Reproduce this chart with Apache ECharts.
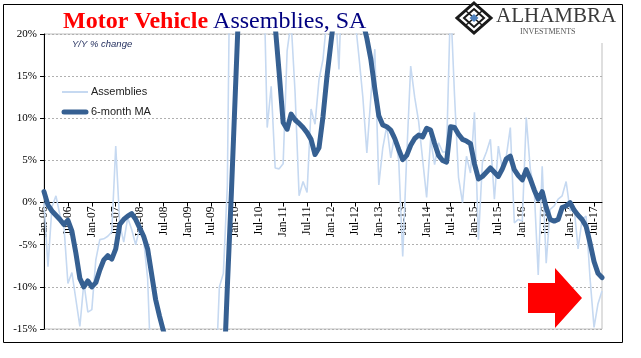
<!DOCTYPE html>
<html><head><meta charset="utf-8">
<script src="https://cdn.jsdelivr.net/npm/echarts@6/dist/echarts.min.js"></script>
<style>html,body{margin:0;padding:0;background:#fff}#c{width:641px;height:358px}</style>
</head><body><div id="c"></div>
<script>
// Categories: monthly, Jan-06 .. Sep-17
const monthNames = ['Jan','Feb','Mar','Apr','May','Jun','Jul','Aug','Sep','Oct','Nov','Dec'];
const years = ['06','07','08','09','10','11','12','13','14','15','16','17'];
const categories = [];
years.forEach(function (y) { monthNames.forEach(function (m) { categories.push(m + '-' + y); }); });
categories.length = 141;

// Y/Y % change of motor vehicle assemblies (clipped values estimated)
const assemblies = [
  0, -7.6, -0.5, 0.8, -1.5, -2.8, -9.6, -8.3, -11.5, -14.7, -9.5, -13,
  -12.7, -6.8, -4.4, -4.3, -4.0, -3.5, 6.7, -2.5, -4.7, -1.8, -3.2, -5.0,
  -3.0, -4.5, -9, -22, -18, -20, -17, -22, -25, -30, -35, -40,
  -48, -52, -55, -50, -45, -38, -30, -22, -10, -8.4, 2, 45,
  70, 95, 110, 100, 80, 60, 45, 30, 8.9, 13.8, 4.1, 4.0,
  4.6, 18, 21.5, 13, 0.8, 2.5, 1.2, 11.1, 9.3, 14.6, 17, 22,
  28, 24, 15.8, 30, 28, 26, 22, 17.4, 12.5, 5.9, 12.5, 18.2,
  2.1, 6.5, 9.1, 5.3, 8.1, 5.0, -6.4, 5.5, 16.2, 12.5, 9.6, 5.1,
  0.6, 7.5, 4.5, 7.1, 6.0, 6.0, 24, 12.7, 3, 0, 5.5, 3.5,
  10.7, -4.4, 4.8, 6.0, 7.5, 0.4, 6.7, 4.0, 5.5, 8.9, -2.4, -2.0,
  -2.2, 10.1, 4, 1.5, -8.6, 4.3, -7.2, -0.8, -0.4, 0.4, 0.8, 2.5,
  -1.0, -0.6, -5.5, -2.0, -1.6, -9, -14.8, -12, -10.5
];

// 6-month moving average
const ma6 = [
  1.3, -0.3, -1.0, -1.5, -2.0, -2.6, -2.1, -3.4, -6.0, -9.0, -10.0, -9.3,
  -10.0, -9.5, -8.0, -6.8, -6.3, -6.7, -5.5, -2.6, -2.0, -1.6, -1.3, -2.0,
  -3.0, -4.0, -5.5, -8.5, -11.5, -13.5, -15.3, -18, -20.5, -22.5, -25, -28,
  -33, -38, -43, -47, -48.5, -48, -45, -40, -32, -22, -10, 1,
  13, 25, 40, 55, 68, 75, 78, 70, 55, 40, 21, 15.4,
  9.5, 8.7, 10.5, 9.8, 9.4, 8.9, 8.3, 7.5, 5.7, 6.5, 10.2, 15,
  19, 23, 24, 25, 26, 26, 25, 24, 21.5, 19.5, 17, 13.5,
  10.3, 9.2, 9.0, 8.6, 7.6, 6.3, 5.1, 5.6, 6.8, 7.6, 8.0, 7.8,
  8.8, 8.6, 7.0, 5.6, 5.0, 4.8, 9.0, 8.9, 8.1, 7.5, 7.3, 7.0,
  4.6, 2.8, 3.1, 3.6, 4.1, 3.6, 3.1, 4.0, 5.2, 5.5, 3.9, 3.2,
  2.7, 3.9, 2.8, 1.5, 0.4, 1.3, -0.6, -2.0, -2.2, -2.0, -0.6, -0.4,
  0, -0.9, -1.5, -2.0, -2.8, -4.8, -7.0, -8.4, -8.9
];

const yMin = -15, yMax = 20, yStep = 5;

const chart = echarts.init(document.getElementById('c'), null, {renderer: 'canvas'});

const serif = 'Liberation Serif';
const lightBlue = '#c6d9f1';
const darkBlue = '#366092';
const gridTop = 34, gridBottom = 29, chartH = 358;
const plotH = chartH - gridTop - gridBottom;
const zeroOffset = -plotH * (0 - yMin) / (yMax - yMin);

chart.setOption({
  animation: false,
  backgroundColor: '#ffffff',
  title: {
    text: '{r|Motor Vehicle} {b|Assemblies, SA}',
    left: 58, top: 5,
    textStyle: {
      fontWeight: 'normal',
      rich: {
        r: {fontFamily: serif, fontSize: 24, fontWeight: 'bold', color: '#ff0000'},
        b: {fontFamily: serif, fontSize: 24, fontWeight: 'normal', color: '#000080'}
      }
    }
  },
  grid: {left: 44, right: 39, top: gridTop, bottom: gridBottom, show: true, borderColor: '#bfbfbf', borderWidth: 1,
         containLabel: false, outerBoundsMode: 'none'},
  xAxis: {
    type: 'category', data: categories, boundaryGap: false,
    offset: zeroOffset,
    axisLine: {onZero: false, lineStyle: {color: '#000', width: 1}},
    axisTick: {show: true, interval: 5, length: 4, lineStyle: {color: '#000'}},
    axisLabel: {interval: 5, rotate: 90, fontFamily: serif, fontSize: 11.5, color: '#000', margin: 4},
    splitLine: {show: false}
  },
  yAxis: {
    type: 'value', min: yMin, max: yMax, interval: yStep,
    axisLine: {show: true, lineStyle: {color: '#000', width: 1}},
    axisTick: {show: true, length: 4, lineStyle: {color: '#000'}},
    axisLabel: {formatter: '{value}%', fontFamily: serif, fontSize: 11, color: '#000', margin: 7},
    splitLine: {show: true, lineStyle: {color: '#b0b0b0', type: [2, 2], width: 1}}
  },
  series: [
    {name: 'Assemblies', type: 'line', data: assemblies, showSymbol: false, symbol: 'none',
     lineStyle: {color: lightBlue, width: 1.6}, itemStyle: {color: lightBlue}, z: 2, clip: true},
    {name: '6-month MA', type: 'line', data: ma6, showSymbol: false, symbol: 'none',
     lineStyle: {color: darkBlue, width: 5, cap: 'round', join: 'round'}, itemStyle: {color: darkBlue}, z: 3, clip: true}
  ],
  graphic: [
    // outer frame
    {type: 'rect', z: 50, silent: true, shape: {x: 3.5, y: 4.5, width: 619, height: 338},
     style: {fill: null, stroke: '#000', lineWidth: 1}},
    // white patch behind logo
    {type: 'rect', z: 60, silent: true, shape: {x: 455, y: 5, width: 167, height: 38},
     style: {fill: '#fff', stroke: null}},
    // logo icon
    {type: 'polygon', z: 70, silent: true, shape: {points: [[474,3],[491,18],[474,33],[457,18]]}, style: {fill: null, stroke: '#1a1a1a', lineWidth: 3}},
    {type: 'polygon', z: 70, silent: true, shape: {points: [[474,9],[484,18],[474,27],[464,18]]}, style: {fill: null, stroke: '#1a1a1a', lineWidth: 2}},
    {type: 'line', z: 70, silent: true, shape: {x1: 465.5, y1: 10.5, x2: 482.5, y2: 25.5}, style: {stroke: '#1a1a1a', lineWidth: 1.5}},
    {type: 'line', z: 70, silent: true, shape: {x1: 482.5, y1: 10.5, x2: 465.5, y2: 25.5}, style: {stroke: '#1a1a1a', lineWidth: 1.5}},
    {type: 'polygon', z: 71, silent: true, shape: {points: [[474,14],[478.5,18],[474,22],[469.5,18]]}, style: {fill: '#4f81bd', stroke: null}},
    {type: 'text', z: 70, left: 496, top: 6, silent: true,
     style: {text: 'ALHAMBRA', fontFamily: serif, fontSize: 21, fill: '#3a3a3a', letterSpacing: 1}},
    {type: 'text', z: 70, left: 520, top: 28, silent: true,
     style: {text: 'INVESTMENTS', fontFamily: serif, fontSize: 8, fill: '#555', letterSpacing: 1}},
    // subtitle
    {type: 'text', z: 70, left: 72, top: 39, silent: true,
     style: {text: 'Y/Y % change', fontFamily: 'Liberation Sans', fontStyle: 'italic', fontSize: 9.5, fill: '#1f2b5b'}},
    // legend
    {type: 'line', z: 70, silent: true, shape: {x1: 62, y1: 92, x2: 88, y2: 92}, style: {stroke: lightBlue, lineWidth: 2}},
    {type: 'text', z: 70, left: 91, top: 86, silent: true,
     style: {text: 'Assemblies', fontFamily: 'Liberation Sans', fontSize: 11, fill: '#222'}},
    {type: 'line', z: 70, silent: true, shape: {x1: 64, y1: 112, x2: 86, y2: 112}, style: {stroke: darkBlue, lineWidth: 5, lineCap: 'round'}},
    {type: 'text', z: 70, left: 91, top: 106, silent: true,
     style: {text: '6-month MA', fontFamily: 'Liberation Sans', fontSize: 11, fill: '#222'}},
    // red arrow
    {type: 'polygon', z: 70, silent: true,
     shape: {points: [[528,283],[555,283],[555,268],[582,298],[555,328],[555,313],[528,313]]},
     style: {fill: '#ff0000', stroke: null}}
  ]
});
</script>
</body></html>
